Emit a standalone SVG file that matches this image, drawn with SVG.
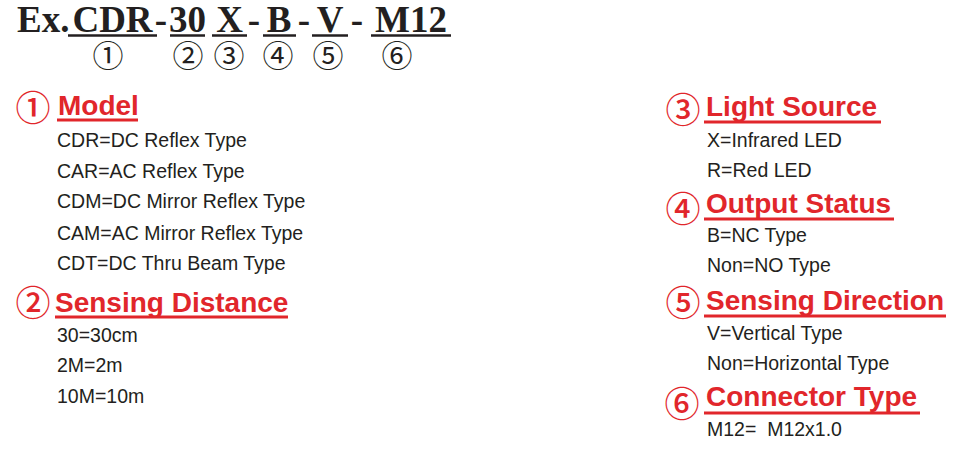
<svg xmlns="http://www.w3.org/2000/svg" width="953" height="457" viewBox="0 0 953 457">
<style>
.title{font-family:"Liberation Serif","Times New Roman",serif;font-weight:bold;font-size:37px;fill:#231f20}
.ul{stroke:#231f20;stroke-width:2.5}
.cn{font-family:"Noto Sans CJK SC","DejaVu Sans",sans-serif;font-size:31px;fill:#231f20;text-anchor:middle}
.rc{font-family:"Noto Sans CJK SC","DejaVu Sans",sans-serif;font-size:35px;font-weight:500;fill:#e1262b;text-anchor:middle}
.hd{font-family:"Liberation Sans",Arial,sans-serif;font-weight:bold;font-size:28px;fill:#e1262b}
.rl{stroke:#e1262b;stroke-width:3}
.it{font-family:"Liberation Sans",Arial,sans-serif;font-size:19.5px;fill:#231f20;white-space:pre}
</style>
<rect width="953" height="457" fill="#ffffff"/>
<g id="code">
<text class="title" x="17" y="32">Ex.</text>
<text class="title" x="112.5" y="32" text-anchor="middle">CDR</text>
<text class="title" x="161" y="32" text-anchor="middle">-</text>
<text class="title" x="187.5" y="32" text-anchor="middle">30</text>
<text class="title" x="229.5" y="32" text-anchor="middle">X</text>
<text class="title" x="254" y="32" text-anchor="middle">-</text>
<text class="title" x="279" y="32" text-anchor="middle">B</text>
<text class="title" x="304" y="32" text-anchor="middle">-</text>
<text class="title" x="330" y="32" text-anchor="middle">V</text>
<text class="title" x="357" y="32" text-anchor="middle">-</text>
<text class="title" x="411" y="32" text-anchor="middle">M12</text>
<line class="ul" x1="68" y1="35.5" x2="157" y2="35.5"/>
<line class="ul" x1="170" y1="35.5" x2="205" y2="35.5"/>
<line class="ul" x1="212" y1="35.5" x2="247" y2="35.5"/>
<line class="ul" x1="263" y1="35.5" x2="296" y2="35.5"/>
<line class="ul" x1="312" y1="35.5" x2="348" y2="35.5"/>
<line class="ul" x1="371" y1="35.5" x2="451" y2="35.5"/>
<text class="cn" x="108" y="67">①</text>
<text class="cn" x="188" y="67">②</text>
<text class="cn" x="229" y="67">③</text>
<text class="cn" x="278" y="67">④</text>
<text class="cn" x="328" y="67">⑤</text>
<text class="cn" x="397" y="67">⑥</text>
</g>
<g id="model">
<text class="rc" x="33" y="121">①</text>
<text class="hd" x="58" y="115">Model</text>
<line class="rl" x1="57" y1="120" x2="138" y2="120"/>
<text class="it" x="57" y="147">CDR=DC Reflex Type</text>
<text class="it" x="57" y="178">CAR=AC Reflex Type</text>
<text class="it" x="57" y="208">CDM=DC Mirror Reflex Type</text>
<text class="it" x="57" y="240">CAM=AC Mirror Reflex Type</text>
<text class="it" x="57" y="270">CDT=DC Thru Beam Type</text>
</g>
<g id="distance">
<text class="rc" x="33" y="316">②</text>
<text class="hd" x="55" y="312">Sensing Distance</text>
<line class="rl" x1="55" y1="317" x2="288" y2="317"/>
<text class="it" x="57" y="342">30=30cm</text>
<text class="it" x="57" y="372">2M=2m</text>
<text class="it" x="57" y="403">10M=10m</text>
</g>
<g id="light">
<text class="rc" x="683" y="123">③</text>
<text class="hd" x="706" y="116">Light Source</text>
<line class="rl" x1="704" y1="122" x2="881" y2="122"/>
<text class="it" x="707" y="147">X=Infrared LED</text>
<text class="it" x="707" y="177">R=Red LED</text>
</g>
<g id="output">
<text class="rc" x="683" y="222">④</text>
<text class="hd" x="706" y="213">Output Status</text>
<line class="rl" x1="704" y1="219" x2="894" y2="219"/>
<text class="it" x="707" y="242">B=NC Type</text>
<text class="it" x="707" y="272">Non=NO Type</text>
</g>
<g id="direction">
<text class="rc" x="683" y="316">⑤</text>
<text class="hd" x="706" y="310">Sensing Direction</text>
<line class="rl" x1="704" y1="316" x2="946" y2="316"/>
<text class="it" x="707" y="340">V=Vertical Type</text>
<text class="it" x="707" y="370">Non=Horizontal Type</text>
</g>
<g id="connector">
<text class="rc" x="682" y="417">⑥</text>
<text class="hd" x="706" y="406">Connector Type</text>
<line class="rl" x1="704" y1="413" x2="920" y2="413"/>
<text class="it" x="707" y="436">M12=  M12x1.0</text>
</g>
</svg>
